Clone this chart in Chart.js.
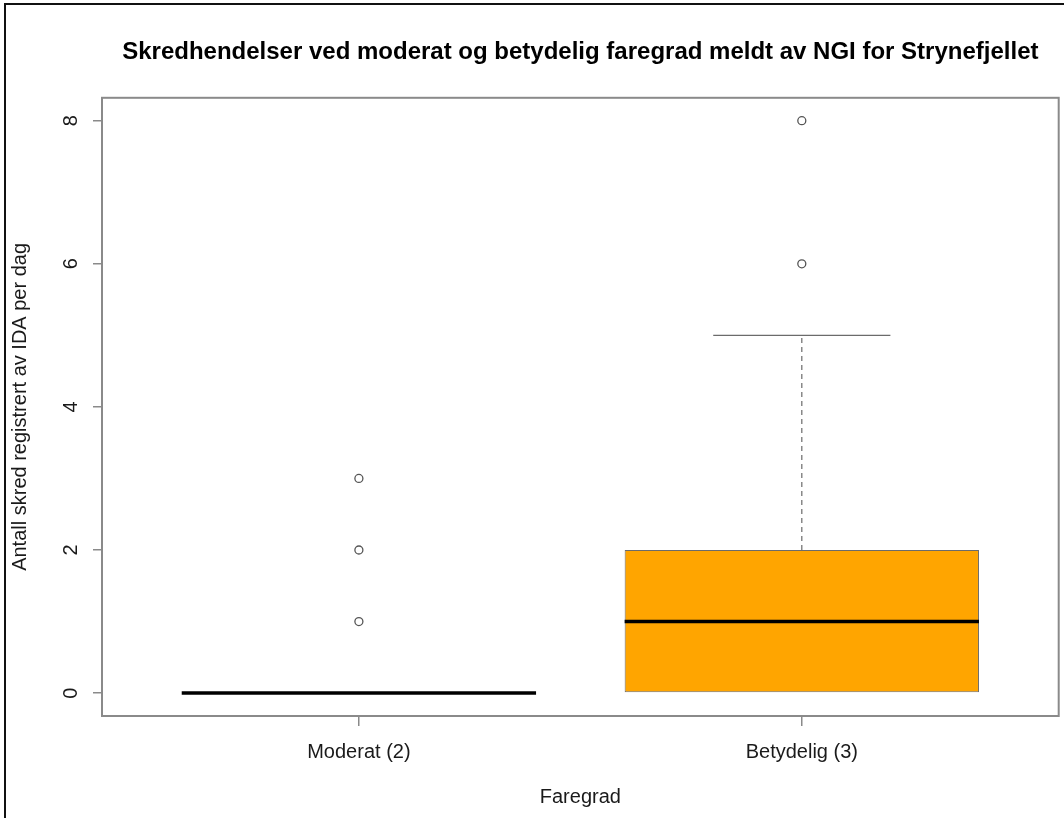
<!DOCTYPE html>
<html>
<head>
<meta charset="utf-8">
<script src="https://cdn.jsdelivr.net/npm/chart.js@4.4.1/dist/chart.umd.min.js"></script>
<style>
  html, body { margin: 0; padding: 0; background: #fff; }
  canvas { display: block; }
</style>
</head>
<body>
<canvas id="skredChart" width="1064" height="818"></canvas>
<script>
// Box statistics per danger level
const categories = ['Moderat (2)', 'Betydelig (3)'];
const whiskerLow = [0, 0];
const quartile1 = [0, 0];
const medians = [0, 1];
const quartile3 = [0, 2];
const whiskerHigh = [0, 5];
const outliers = [[1, 2, 3], [6, 8]];
const yTicks = [0, 2, 4, 6, 8];

const gridGrey = '#8a8a8a';
const lineGrey = '#6b6b6b';

Chart.defaults.font.family = "'Liberation Sans', Arial, sans-serif";
Chart.defaults.color = '#1a1a1a';

// Box outlines, whiskers, medians and the plot frame
const boxplotPlugin = {
  id: 'boxplot',
  beforeDraw(chart) {
    const ctx = chart.ctx;
    ctx.save();
    ctx.strokeStyle = '#111';
    ctx.lineWidth = 2;
    ctx.beginPath();
    ctx.moveTo(5, chart.height);
    ctx.lineTo(5, 4);
    ctx.lineTo(chart.width, 4);
    ctx.stroke();
    ctx.restore();
  },
  afterDatasetsDraw(chart) {
    const ctx = chart.ctx;
    const xs = chart.scales.x;
    const ys = chart.scales.y;
    const area = chart.chartArea;
    ctx.save();
    categories.forEach((c, i) => {
      const cx = xs.getPixelForValue(i + 1);
      const half = xs.getPixelForValue(i + 1.4) - cx;
      const staple = half / 2;
      ctx.strokeStyle = lineGrey;
      ctx.lineWidth = 1.2;
      const ends = [];
      // dashed whiskers
      ctx.setLineDash([5, 4]);
      ctx.beginPath();
      if (whiskerHigh[i] > quartile3[i]) {
        ctx.moveTo(cx, ys.getPixelForValue(quartile3[i]));
        ctx.lineTo(cx, ys.getPixelForValue(whiskerHigh[i]));
        ends.push(whiskerHigh[i]);
      }
      if (whiskerLow[i] < quartile1[i]) {
        ctx.moveTo(cx, ys.getPixelForValue(quartile1[i]));
        ctx.lineTo(cx, ys.getPixelForValue(whiskerLow[i]));
        ends.push(whiskerLow[i]);
      }
      ctx.stroke();
      ctx.setLineDash([]);
      // staples
      ctx.beginPath();
      ends.forEach(v => {
        const py = ys.getPixelForValue(v);
        ctx.moveTo(cx - staple, py);
        ctx.lineTo(cx + staple, py);
      });
      ctx.stroke();
      // median
      ctx.strokeStyle = '#000';
      ctx.lineWidth = 3.5;
      ctx.beginPath();
      const my = ys.getPixelForValue(medians[i]);
      ctx.moveTo(cx - half, my);
      ctx.lineTo(cx + half, my);
      ctx.stroke();
    });
    // frame around plot area
    ctx.strokeStyle = gridGrey;
    ctx.lineWidth = 2;
    ctx.strokeRect(area.left, area.top, area.right - area.left, area.bottom - area.top);
    ctx.restore();
  }
};

const boxData = categories.map((c, i) => ({ x: i + 1, y: [quartile1[i], quartile3[i]] }));
const outlierData = [];
outliers.forEach((list, i) => list.forEach(v => outlierData.push({ x: i + 1, y: v })));

new Chart(document.getElementById('skredChart'), {
  type: 'bar',
  data: {
    datasets: [{
      label: 'Boks',
      data: boxData,
      backgroundColor: '#ffa500',
      borderColor: lineGrey,
      borderWidth: 1,
      borderSkipped: false,
      barPercentage: 0.8,
      categoryPercentage: 1
    }, {
      type: 'scatter',
      label: 'Uteliggere',
      data: outlierData,
      pointRadius: 4,
      pointBorderWidth: 1.3,
      pointBorderColor: '#555',
      pointBackgroundColor: 'rgba(0,0,0,0)',
      showLine: false
    }]
  },
  options: {
    responsive: false,
    devicePixelRatio: 1,
    animation: false,
    layout: { padding: { top: 6, left: 7, right: 3, bottom: 0 } },
    plugins: {
      legend: { display: false },
      tooltip: { enabled: false },
      title: {
        display: true,
        fullSize: false,
        text: 'Skredhendelser ved moderat og betydelig faregrad meldt av NGI for Strynefjellet',
        color: '#000',
        font: { size: 24, weight: 'bold' },
        padding: { top: 32, bottom: 31 }
      }
    },
    scales: {
      x: {
        type: 'linear',
        min: 0.42,
        max: 2.58,
        offset: false,
        afterBuildTicks: s => { s.ticks = categories.map((c, i) => ({ value: i + 1 })); },
        afterFit: s => { s.height = 102; s.paddingLeft = 0; s.paddingRight = 0; },
        ticks: {
          font: { size: 20 },
          padding: 14,
          autoSkip: false,
          maxRotation: 0,
          callback: v => categories[v - 1]
        },
        grid: { offset: false, drawOnChartArea: false, drawTicks: true, tickLength: 10, color: gridGrey, lineWidth: 1.5 },
        border: { display: false },
        title: { display: true, text: 'Faregrad', font: { size: 20 }, padding: { top: 0, bottom: 9 } }
      },
      y: {
        min: -0.32,
        max: 8.32,
        afterBuildTicks: s => { s.ticks = yTicks.map(v => ({ value: v })); },
        afterFit: s => { s.width = 95; s.paddingTop = 0; s.paddingBottom = 0; },
        ticks: {
          font: { size: 20 },
          padding: 16,
          minRotation: 90,
          maxRotation: 90,
          crossAlign: 'center'
        },
        grid: { drawOnChartArea: false, drawTicks: true, tickLength: 9, color: gridGrey, lineWidth: 1.5 },
        border: { display: false },
        title: { display: true, text: 'Antall skred registrert av IDA per dag', font: { size: 20 }, padding: { top: 1, bottom: 0 } }
      }
    }
  },
  plugins: [boxplotPlugin]
});
</script>
</body>
</html>
